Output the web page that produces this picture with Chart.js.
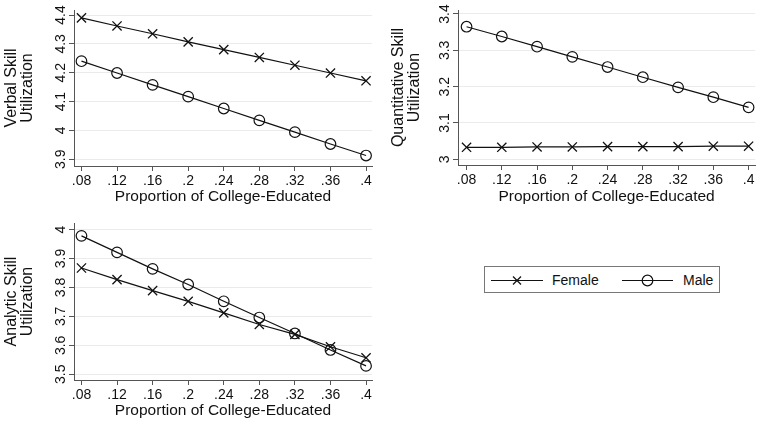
<!DOCTYPE html>
<html>
<head>
<meta charset="utf-8">
<script src="https://cdn.jsdelivr.net/npm/chart.js@4"></script>
<style>
  html, body { margin: 0; padding: 0; background: #fff; }
  body { width: 763px; height: 424px; position: relative; overflow: hidden;
         font-family: "Liberation Sans", Arial, Helvetica, sans-serif; color: #111; }
  canvas { position: absolute; }
  #legend { position: absolute; left: 484px; top: 266px; width: 236px; height: 27px;
            border: 1px solid #777; box-sizing: border-box; }
  #legend svg { position: absolute; left: -1px; top: -1px; }
  #legend span { position: absolute; top: 0; line-height: 27px; font-size: 14px; }
</style>
</head>
<body>
<canvas id="verbal" width="380" height="210" style="left:0;top:0"></canvas>
<canvas id="quant" width="383" height="210" style="left:380px;top:0"></canvas>
<canvas id="analytic" width="380" height="214" style="left:0;top:210px"></canvas>
<div id="legend">
  <svg width="236" height="27">
    <line x1="7" y1="14.5" x2="59" y2="14.5" stroke="#111" stroke-width="1.2"/>
    <line x1="29" y1="10.5" x2="37" y2="18.5" stroke="#111" stroke-width="1.3"/>
    <line x1="37" y1="10.5" x2="29" y2="18.5" stroke="#111" stroke-width="1.3"/>
    <line x1="138" y1="14.5" x2="189" y2="14.5" stroke="#111" stroke-width="1.2"/>
    <circle cx="163.5" cy="14.5" r="5.3" fill="none" stroke="#111" stroke-width="1.2"/>
  </svg>
  <span id="lgF" style="left:67px"></span>
  <span id="lgM" style="left:198px"></span>
</div>
<script>
// x values and their labels
const xValues = [0.08, 0.12, 0.16, 0.2, 0.24, 0.28, 0.32, 0.36, 0.4];
const xTickLabels = ['.08', '.12', '.16', '.2', '.24', '.28', '.32', '.36', '.4'];
const seriesNames = ['Female', 'Male'];
const xTitle = 'Proportion of College-Educated';

// verbal skill utilization
const verbalFemale = [4.390, 4.362, 4.335, 4.307, 4.280, 4.253, 4.226, 4.199, 4.172];
const verbalMale   = [4.240, 4.199, 4.158, 4.117, 4.076, 4.035, 3.994, 3.953, 3.913];
const verbalTicks  = [3.9, 4, 4.1, 4.2, 4.3, 4.4];

// quantitative skill utilization
const quantFemale = [3.033, 3.033, 3.034, 3.034, 3.035, 3.035, 3.035, 3.036, 3.036];
const quantMale   = [3.365, 3.338, 3.310, 3.282, 3.254, 3.226, 3.198, 3.171, 3.143];
const quantTicks  = [3, 3.1, 3.2, 3.3, 3.4];

// analytic skill utilization
const analyticFemale = [3.867, 3.827, 3.789, 3.752, 3.712, 3.672, 3.638, 3.595, 3.557];
const analyticMale   = [3.978, 3.921, 3.864, 3.810, 3.752, 3.696, 3.641, 3.584, 3.529];
const analyticTicks  = [3.5, 3.6, 3.7, 3.8, 3.9, 4];

Chart.defaults.font.family = '"Liberation Sans", Arial, Helvetica, sans-serif';
Chart.defaults.color = '#111';

function pts(ys){ return xValues.map((x, i) => ({x: x, y: ys[i]})); }

function makePanel(id, p){
    const line = '#111';
    new Chart(document.getElementById(id), {
        type: 'line',
        data: {
            datasets: [
                { label: seriesNames[0], data: pts(p.female), borderColor: line, borderWidth: 1.2,
                  pointStyle: 'crossRot', pointRadius: 6.5, pointBorderWidth: 1.3,
                  pointBorderColor: line, pointBackgroundColor: 'rgba(0,0,0,0)', tension: 0 },
                { label: seriesNames[1], data: pts(p.male), borderColor: line, borderWidth: 1.2,
                  pointStyle: 'circle', pointRadius: 5.3, pointBorderWidth: 1.2,
                  pointBorderColor: line, pointBackgroundColor: 'rgba(0,0,0,0)', tension: 0 }
            ]
        },
        options: {
            responsive: false, animation: false, devicePixelRatio: 1,
            layout: { padding: { top: p.padTop, right: p.padRight, left: 0, bottom: 0 } },
            plugins: { legend: { display: false }, tooltip: { enabled: false } },
            scales: {
                x: {
                    type: 'linear', min: p.xMin, max: p.xMax,
                    afterBuildTicks: s => { s.ticks = xValues.map(v => ({value: v})); },
                    afterFit: s => { s.height = p.xAxisH; },
                    ticks: { maxRotation: 0, minRotation: 0, padding: 2, font: { size: 14 }, color: '#111',
                             callback: (v, i) => xTickLabels[i] },
                    grid: { drawOnChartArea: false, drawTicks: true, tickLength: 5, tickColor: '#555' },
                    border: { color: '#555', width: 1 },
                    title: { display: true, text: xTitle, font: { size: 15.5 }, color: '#111',
                             padding: { top: 0, bottom: 4 } }
                },
                y: {
                    type: 'linear', min: p.yMin, max: p.yMax,
                    afterBuildTicks: s => { s.ticks = p.yTicks.map(v => ({value: v})); },
                    afterFit: s => { s.width = p.axisX; },
                    ticks: { minRotation: 90, maxRotation: 90, crossAlign: 'center', padding: -2,
                             font: { size: 14 }, color: '#111', callback: v => String(v) },
                    grid: { color: '#ebebeb', lineWidth: 1, tickLength: 5, tickColor: '#555' },
                    border: { color: '#555', width: 1 },
                    title: { display: true, text: p.title, font: { size: 16, lineHeight: 1.03 }, color: '#111',
                             padding: { top: p.titlePad, bottom: 0 } }
                }
            }
        }
    });
}

makePanel('verbal', {
    female: verbalFemale, male: verbalMale, yTicks: verbalTicks,
    title: ['Verbal Skill', 'Utilization'],
    yMin: 3.8767, yMax: 4.4174, xMin: 0.0716, xMax: 0.4067,
    padTop: 10, padRight: 8, axisX: 74, xAxisH: 44, titlePad: 3
});
makePanel('quant', {
    female: quantFemale, male: quantMale, yTicks: quantTicks,
    title: ['Quantitative Skill', 'Utilization'],
    yMin: 2.9843, yMax: 3.411, xMin: 0.0703, xMax: 0.4075,
    padTop: 10, padRight: 4, axisX: 78, xAxisH: 45, titlePad: 10
});
makePanel('analytic', {
    female: analyticFemale, male: analyticMale, yTicks: analyticTicks,
    title: ['Analytic Skill', 'Utilization'],
    yMin: 3.4803, yMax: 4.0224, xMin: 0.0716, xMax: 0.4067,
    padTop: 13, padRight: 8, axisX: 74, xAxisH: 44, titlePad: 3
});

document.getElementById('lgF').textContent = seriesNames[0];
document.getElementById('lgM').textContent = seriesNames[1];
</script>
</body>
</html>
